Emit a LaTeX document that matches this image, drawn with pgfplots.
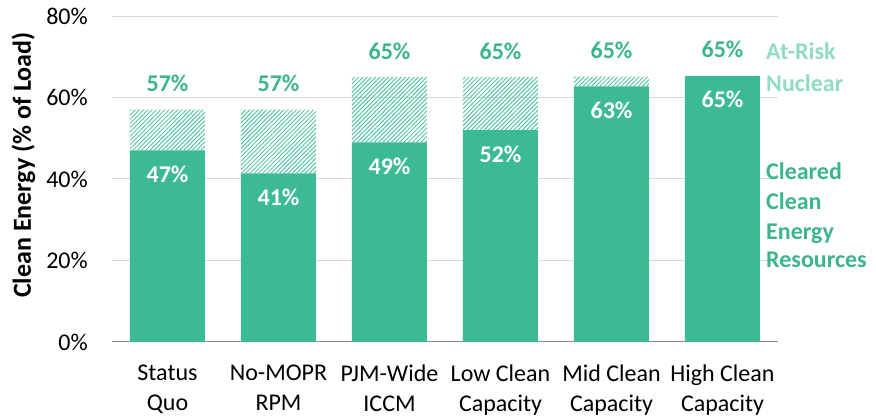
\documentclass[border=0pt]{standalone}
\usepackage{pgfplots}
\pgfplotsset{compat=1.18}
\usepackage{fontspec}
\setmainfont{Carlito}
\usetikzlibrary{patterns.meta}
\definecolor{cgreen}{RGB}{59,186,149}
\definecolor{lgreen}{RGB}{143,219,195}
\definecolor{tgreen}{RGB}{60,181,142}
\tikzset{lbl/.style={font=\fontsize{24}{29}\selectfont\bfseries, anchor=base, inner sep=0pt},
  inl/.style={lbl, text=white, yshift=-32pt},
  topl/.style={lbl, text=tgreen, yshift=18pt}}
\begin{document}
\begin{tikzpicture}
\path[use as bounding box] (-112pt,-77pt) rectangle (764pt,342pt);
\begin{axis}[
  at={(0pt,0pt)}, anchor=south west,
  scale only axis, width=666pt, height=326pt,
  ybar stacked, bar width=75pt,
  xmin=-0.5, xmax=5.5, ymin=0, ymax=80,
  xtick={0,...,5},
  xticklabels={{Status\\Quo},{No-MOPR\\RPM},{PJM-Wide\\ICCM},{Low Clean\\Capacity},{Mid Clean\\Capacity},{High Clean\\Capacity}},
  ytick={0,20,40,60,80},
  yticklabel={\pgfmathprintnumber{\tick}\%},
  /pgf/number format/assume math mode=true,
  axis x line*=bottom, axis y line*=left,
  x axis line style={draw=gray!90, line width=1pt, -},
  y axis line style={draw=none},
  major tick length=0pt,
  ymajorgrids, grid style={draw=black!15, line width=1pt},
  ticklabel style={font=\fontsize{24}{29.5}\selectfont},
  xticklabel style={align=center, anchor=north, inner sep=0pt, yshift=-23pt},
  yticklabel style={anchor=east, inner sep=0pt, xshift=-24pt},
  clip=false,
]
\addplot[fill=cgreen, draw=none]
  coordinates {(0,47) (1,41.4) (2,49) (3,52) (4,62.7) (5,65.3)};
\addplot[pattern={Lines[angle=45,distance=3pt,line width=1pt]}, pattern color=cgreen!85, draw=none]
  coordinates {(0,10) (1,15.6) (2,16) (3,13) (4,2.4) (5,0)};
\coordinate (i0) at (axis cs:0,47);
\coordinate (i1) at (axis cs:1,41.4);
\coordinate (i2) at (axis cs:2,49);
\coordinate (i3) at (axis cs:3,52);
\coordinate (i4) at (axis cs:4,62.7);
\coordinate (i5) at (axis cs:5,65.3);
\node[topl] at (axis cs:0,57) {57\%};
\node[topl] at (axis cs:1,57) {57\%};
\node[topl] at (axis cs:2,65) {65\%};
\node[topl] at (axis cs:3,65) {65\%};
\node[topl] at (axis cs:4,65.1) {65\%};
\node[topl] at (axis cs:5,65.3) {65\%};
\end{axis}
\node[inl] at (i0) {47\%};
\node[inl] at (i1) {41\%};
\node[inl] at (i2) {49\%};
\node[inl] at (i3) {52\%};
\node[inl] at (i4) {63\%};
\node[inl] at (i5) {65\%};
\begin{scope}[every node/.style={anchor=base west, inner sep=0pt, font=\fontsize{24}{29}\selectfont\bfseries}]
\node[text=lgreen] at (654pt,282pt) {At-Risk};
\node[text=lgreen] at (654pt,250pt) {Nuclear};
\node[text=tgreen] at (654pt,162pt) {Cleared};
\node[text=tgreen] at (654pt,132pt) {Clean};
\node[text=tgreen] at (654pt,102pt) {Energy};
\node[text=tgreen] at (654pt,74pt) {Resources};
\end{scope}
\node[rotate=90, font=\fontsize{26}{30}\selectfont\bfseries] at (-88.5pt,177pt) {Clean Energy (\% of Load)};
\end{tikzpicture}
\end{document}
